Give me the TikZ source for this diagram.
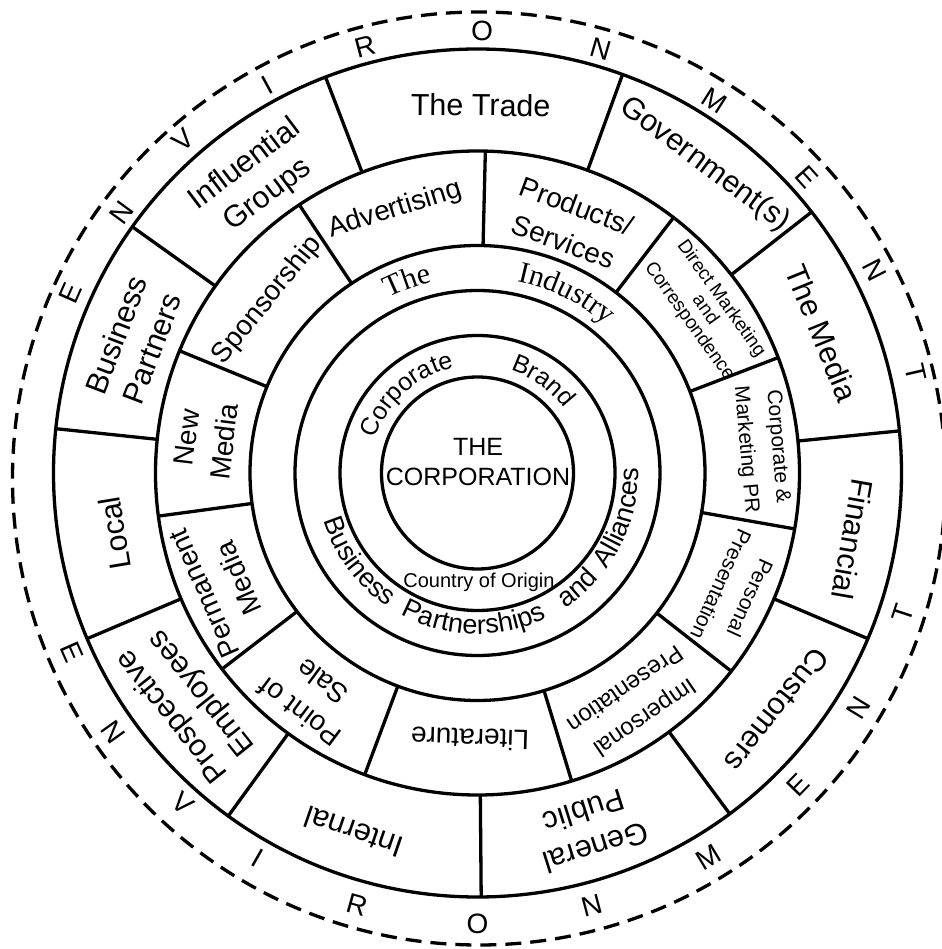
\documentclass[tikz,border=0pt]{standalone}
\usepackage{fontspec}
\setmainfont{Liberation Sans}
\newfontfamily\timesface{Liberation Serif}
\usetikzlibrary{decorations.text}

\begin{document}
\begin{tikzpicture}[x=1pt,y=1pt,line width=3.3pt,
        outer/.style={font=\fontsize{30.5}{38}\selectfont,align=center},
        mid/.style={font=\fontsize{28}{38}\selectfont,align=center},
        midsmall/.style={font=\fontsize{24}{35}\selectfont,align=center},
        small/.style={font=\fontsize{21}{32}\selectfont,align=center},
        tiny/.style={font=\fontsize{19}{19.5}\selectfont,align=center},
        letter/.style={font=\fontsize{28}{28}\selectfont},
        curved/.style={decorate,decoration={text along path,text align=center}}]

    \useasboundingbox (-477.5,-476) rectangle (463.5,473);

    \coordinate (centre) at (0,0);
    \draw (centre) circle (96) circle (137.5) circle (182.5) circle (227.5)
          circle (322) circle (424);
    \draw[dash pattern=on 16pt off 9pt] (1.5,-5.5) circle (466.5);

    % spokes
    \foreach \ang in {5.7,38,70,111,144.5,174,203,234,270.5,306.5,337}
        \draw (\ang:322) -- (\ang:424);
    \foreach \ang in {21,52.5,88.6,123.6,157.7,187.7,217.5,249.5,287,322,350}
        \draw (\ang:227.5) -- (\ang:322);

    % outer ring
    \foreach \ang/\rad/\txt [count=\i] in {89.5/368/The Trade, 53.6/383/Government(s),
            22.1/372/The Media, 350/381/Financial, 321.7/382/Customers,
            287.5/374/General\\Public, 251/380/Internal, 218.5/371/Prospective\\Employees,
            189.4/368/Local, 159.1/368/Business\\Partners, 127/367/Influential\\Groups}
        \node[outer,rotate=\ang-90] (out\i) at (\ang:\rad) {\txt};

    % middle ring
    \foreach \ang/\rad/\sty/\txt [count=\i] in {107.4/276/mid/Advertising,
            140.6/272/mid/Sponsorship, 173/274/mid/New\\Media,
            203.8/280/mid/Permanent\\Media, 233.4/279/mid/Point of\\Sale,
            268.4/266/mid/Literature, 304.4/280/midsmall/Impersonal\\Presentation,
            335.4/284/small/Personal\\Presentation, 5/285/small/Corporate \&\\Marketing PR,
            35.6/280/tiny/Direct Marketing\\and\\Correspondence,
            69.6/266/mid/{Products/\\Services}}
        \node[\sty,rotate=\ang-90] (mid\i) at (\ang:\rad) {\txt};

    % environment
    \foreach \ang/\rad/\ltr [count=\i] in {156.2/445/E, 143.8/441/N, 131.5/444/V,
            118.5/441/I, 104.8/441/R, 89.4/442/O, 73.8/441/N, 57.5/442/M,
            41.9/443/E, 27.05/446/N, 12.9/450/T}
        \node[letter,rotate=\ang-90] (top\i) at (\ang:\rad) {\ltr};
    \foreach \ang/\rad/\ltr [count=\i] in {203.8/443/E, 215.5/447/N, 228.3/443/V,
            240.3/443/I, 254.4/448/R, 270/451/O, 284.8/447/N, 301/448/M,
            315.8/447/E, 328.4/448/N, 341.8/448/T}
        \node[letter,rotate=\ang+90] (bottom\i) at (\ang:\rad) {\ltr};

    % the industry
    \path[curved,decoration={text={|\timesface\fontsize{30}{30}\selectfont|The}}]
        (150:196) arc[start angle=150,end angle=70,radius=196];
    \path[curved,decoration={text={|\timesface\fontsize{30}{30}\selectfont|Industry}}]
        (103.5:196) arc[start angle=103.5,end angle=23.5,radius=196];

    % partnerships
    \path[curved,decoration={text={|\fontsize{27}{27}\selectfont|Business}}]
        (176.7:161) arc[start angle=176.7,end angle=256.7,radius=161];
    \path[curved,decoration={text={|\fontsize{27}{27}\selectfont|Partnerships}}]
        (228.5:161) arc[start angle=228.5,end angle=308.5,radius=161];
    \path[curved,decoration={text={|\fontsize{27}{27}\selectfont|and}}]
        (271:161) arc[start angle=271,end angle=351,radius=161];
    \path[curved,decoration={text={|\fontsize{27}{27}\selectfont|Alliances}}]
        (302.6:161) arc[start angle=302.6,end angle=382.6,radius=161];

    % corporate and brand
    \path[curved,decoration={text={|\fontsize{25}{25}\selectfont|Corporate}}]
        (172:108) arc[start angle=172,end angle=92,radius=108];
    \path[curved,decoration={text={|\fontsize{25}{25}\selectfont|Brand}}]
        (94.5:108) arc[start angle=94.5,end angle=14.5,radius=108];

    \node[font=\fontsize{25}{30}\selectfont,align=center] (corporation) at (0.5,10.5)
        {THE\\CORPORATION};
    \node[font=\fontsize{20}{20}\selectfont] (origin) at (1.5,-109) {Country of Origin};

\end{tikzpicture}
\end{document}
